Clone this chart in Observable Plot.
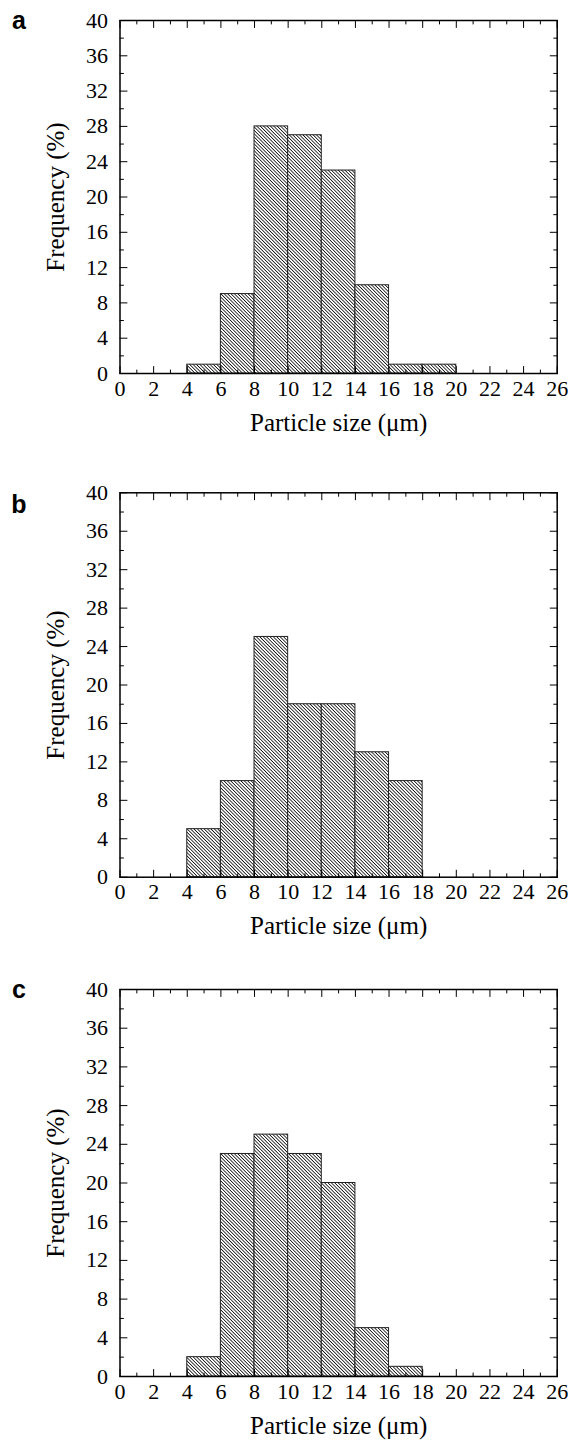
<!DOCTYPE html>
<html>
<head>
<meta charset="utf-8">
<script src="https://cdn.jsdelivr.net/npm/d3@7"></script>
<script src="https://cdn.jsdelivr.net/npm/@observablehq/plot@0.6"></script>
<style>
  html, body { margin: 0; padding: 0; background: #fff; }
  #chart svg { display: block; }
</style>
</head>
<body>
<div id="chart"></div>
<script>
// ---- data ----
const binWidth = 2;
const binsA = [4, 6, 8, 10, 12, 14, 16, 18];
const freqA = [1, 9, 28, 27, 23, 10, 1, 1];
const binsB = [4, 6, 8, 10, 12, 14, 16];
const freqB = [5, 10, 25, 18, 18, 13, 10];
const binsC = [4, 6, 8, 10, 12, 14, 16];
const freqC = [2, 23, 25, 23, 20, 5, 1];
const xMajor = [0, 2, 4, 6, 8, 10, 12, 14, 16, 18, 20, 22, 24, 26];
const xMinor = [1, 3, 5, 7, 9, 11, 13, 15, 17, 19, 21, 23, 25];
const yMajor = [0, 4, 8, 12, 16, 20, 24, 28, 32, 36, 40];
const yMinor = [2, 6, 10, 14, 18, 22, 26, 30, 34, 38];
const xLabel = "Particle size (\u03BCm)";
const yLabel = "Frequency (%)";
const panelLetters = ["a", "b", "c"];

const serif = "Liberation Serif";
const tickShape = { draw(ctx, l) { ctx.moveTo(0, 0); ctx.lineTo(0, -l); } };

function hatchDefs(id) {
  const s = 2.4;
  return () => {
    const defs = d3.create("svg:defs");
    const p = defs.append("pattern")
      .attr("id", id)
      .attr("patternUnits", "userSpaceOnUse")
      .attr("width", s).attr("height", s)
      .attr("patternTransform", "rotate(-45)");
    p.append("rect").attr("width", s).attr("height", s).attr("fill", "white");
    p.append("line").attr("x1", s / 2).attr("y1", 0).attr("x2", s / 2).attr("y2", s)
      .attr("stroke", "black").attr("stroke-width", 0.75);
    return defs.node();
  };
}

function tickMarks(values, anchor, rotate, length) {
  return Plot.vector(values, {
    [anchor === "top" || anchor === "bottom" ? "x" : "y"]: d => d,
    frameAnchor: anchor, rotate, length, anchor: "start",
    shape: tickShape, stroke: "black", strokeWidth: 1
  });
}

function panel(bins, freq, letter, id, height, marginTop, marginBottom, letterDy) {
  const data = bins.map((b, i) => ({ x1: b, x2: b + binWidth, f: freq[i] }));
  return Plot.plot({
    width: 568, height, marginTop, marginBottom, marginLeft: 119.5, marginRight: 11.3,
    x: { domain: [0, 26], label: null },
    y: { domain: [0, 40], label: null },
    style: { fontFamily: serif, fontSize: "22px", color: "black", background: "white", overflow: "visible" },
    marks: [
      hatchDefs(id),
      Plot.rectY(data, { x1: "x1", x2: "x2", y: "f", fill: `url(#${id})`, stroke: "#222", strokeWidth: 1 }),
      tickMarks(xMajor, "bottom", 0, 7),
      tickMarks(xMinor, "bottom", 0, 3.5),
      tickMarks(xMajor, "top", 180, 7),
      tickMarks(xMinor, "top", 180, 3.5),
      tickMarks(yMajor, "left", 90, 7),
      tickMarks(yMinor, "left", 90, 3.5),
      tickMarks(yMajor, "right", 270, 7),
      tickMarks(yMinor, "right", 270, 3.5),
      Plot.frame({ stroke: "black", strokeWidth: 1.5 }),
      Plot.axisX(xMajor, { anchor: "bottom", tickSize: 0, tickPadding: 6.5, label: null,
        fontSize: 22, fontFamily: serif, fontVariant: "normal" }),
      Plot.axisY(yMajor, { anchor: "left", tickSize: 0, tickPadding: 12, label: null,
        fontSize: 22, fontFamily: serif, fontVariant: "normal" }),
      Plot.text([xLabel], { text: d => d, frameAnchor: "bottom", dy: 49, fontSize: 25, fontFamily: serif,
        textAnchor: "middle", lineAnchor: "middle" }),
      Plot.text([yLabel], { text: d => d, frameAnchor: "left", dx: -64, rotate: -90, fontSize: 25, fontFamily: serif,
        textAnchor: "middle", lineAnchor: "middle" }),
      Plot.text([letter], { text: d => d, frameAnchor: "top-left", dx: -101, dy: letterDy, fontSize: 25,
        fontWeight: "bold", fontFamily: "Liberation Sans", textAnchor: "middle", lineAnchor: "middle" })
    ]
  });
}

const root = document.getElementById("chart");
root.append(panel(binsA, freqA, panelLetters[0], "hatchA", 450, 20, 77, 0));
root.append(panel(binsB, freqB, panelLetters[1], "hatchB", 505, 42.3, 78.3, 12.5));
root.append(panel(binsC, freqC, panelLetters[2], "hatchC", 485, 34, 64, 0));
</script>
</body>
</html>
